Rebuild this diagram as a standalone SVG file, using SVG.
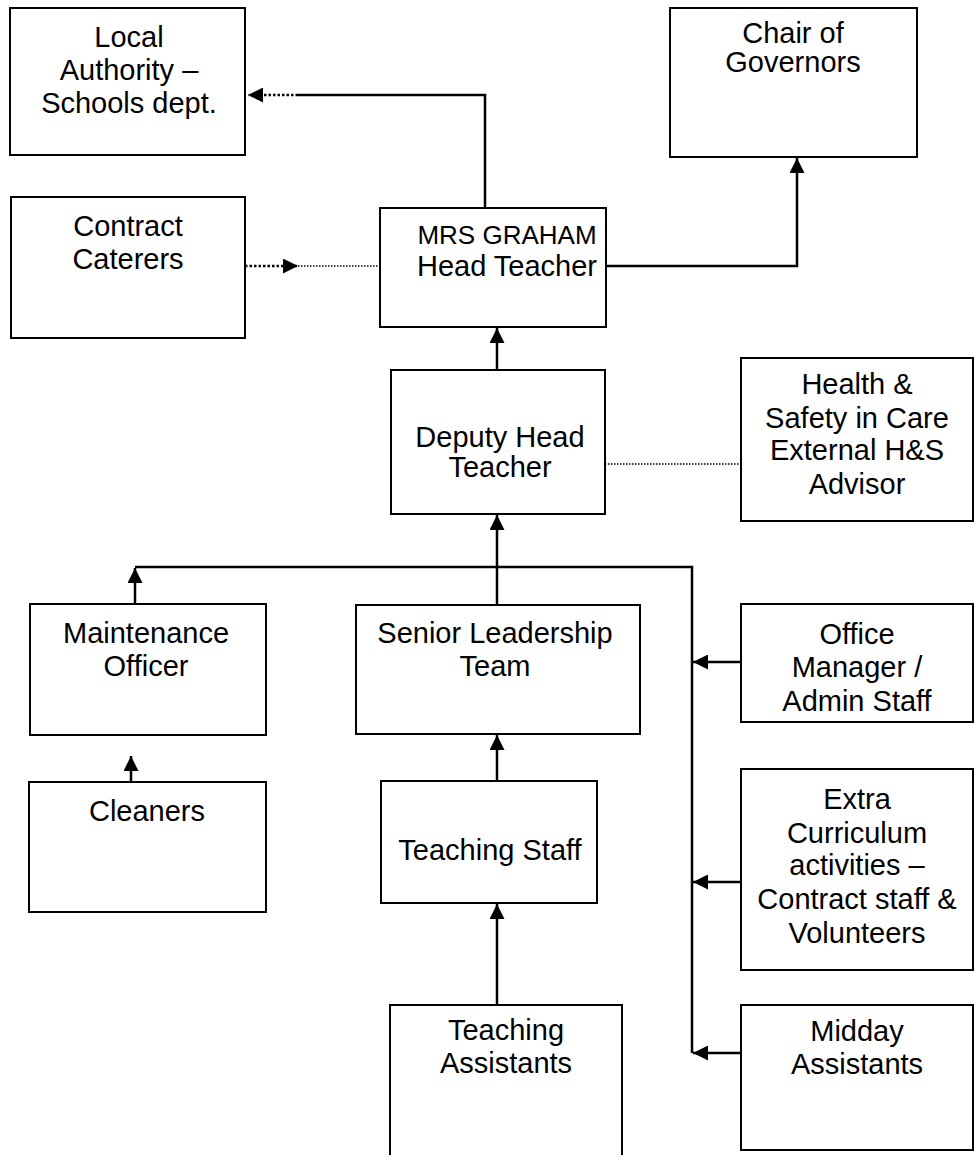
<svg xmlns="http://www.w3.org/2000/svg" width="974" height="1155" viewBox="0 0 974 1155">
<defs>
<marker id="ah" viewBox="0 0 15 15" refX="15" refY="7.5" markerWidth="15" markerHeight="15" markerUnits="userSpaceOnUse" orient="auto">
<path d="M0,0 L15,7.5 L0,15 Z" fill="#000"/>
</marker>
</defs>
<style>
.box{fill:#fff;stroke:#000;stroke-width:2}
.t{font-family:"Liberation Sans",Arial,sans-serif;font-size:29px;fill:#000;text-anchor:middle}
.s{font-size:26px}
.ln{fill:none;stroke:#000;stroke-width:2.5}
.dot{fill:none;stroke:#000;stroke-width:2.5;stroke-dasharray:2.5 2}
.dot2{fill:none;stroke:#000;stroke-width:1.5;stroke-dasharray:1.5 1.5}
</style>
<rect width="974" height="1155" fill="#fff"/>
<g id="connectors">
<path class="ln" d="M485,208 V95 H298"/>
<path class="dot" d="M298,95 H248" marker-end="url(#ah)"/>
<path class="dot" d="M245,266 H298" marker-end="url(#ah)"/>
<path class="dot2" d="M298,266 H380"/>
<path class="ln" d="M606,266 H797 V158" marker-end="url(#ah)"/>
<path class="ln" d="M497,370 V328" marker-end="url(#ah)"/>
<path class="dot2" d="M605,464 H741"/>
<path class="ln" d="M497,605 V515" marker-end="url(#ah)"/>
<path class="ln" d="M135,604 V568" marker-end="url(#ah)"/>
<path class="ln" d="M135,567 H692 V1053"/>
<path class="ln" d="M741,662 H693" marker-end="url(#ah)"/>
<path class="ln" d="M741,882 H693" marker-end="url(#ah)"/>
<path class="ln" d="M741,1053 H693" marker-end="url(#ah)"/>
<path class="ln" d="M131,782 V756" marker-end="url(#ah)"/>
<path class="ln" d="M497,781 V735" marker-end="url(#ah)"/>
<path class="ln" d="M497,1005 V904" marker-end="url(#ah)"/>
</g>
<g id="local-authority"><rect class="box" x="10" y="8" width="235" height="147"/><text class="t" x="129" y="47">Local</text><text class="t" x="129" y="80">Authority –</text><text class="t" x="129" y="113">Schools dept.</text></g>
<g id="chair"><rect class="box" x="670" y="8" width="247" height="149"/><text class="t" x="793" y="43">Chair of</text><text class="t" x="793" y="72">Governors</text></g>
<g id="caterers"><rect class="box" x="11" y="197" width="234" height="141"/><text class="t" x="128" y="236">Contract</text><text class="t" x="128" y="269">Caterers</text></g>
<g id="head"><rect class="box" x="380" y="208" width="226" height="119"/><text class="t s" x="507" y="244">MRS GRAHAM</text><text class="t" x="507" y="276">Head Teacher</text></g>
<g id="deputy"><rect class="box" x="391" y="370" width="214" height="144"/><text class="t" x="500" y="447">Deputy Head</text><text class="t" x="500" y="477">Teacher</text></g>
<g id="health"><rect class="box" x="741" y="358" width="232" height="163"/><text class="t" x="857" y="394">Health &amp;</text><text class="t" x="857" y="428">Safety in Care</text><text class="t" x="857" y="460">External H&amp;S</text><text class="t" x="857" y="494">Advisor</text></g>
<g id="maintenance"><rect class="box" x="30" y="604" width="236" height="131"/><text class="t" x="146" y="643">Maintenance</text><text class="t" x="146" y="676">Officer</text></g>
<g id="slt"><rect class="box" x="356" y="605" width="284" height="129"/><text class="t" x="495" y="643">Senior Leadership</text><text class="t" x="495" y="676">Team</text></g>
<g id="office"><rect class="box" x="741" y="604" width="232" height="118"/><text class="t" x="857" y="644">Office</text><text class="t" x="857" y="677">Manager /</text><text class="t" x="857" y="711">Admin Staff</text></g>
<g id="cleaners"><rect class="box" x="29" y="782" width="237" height="130"/><text class="t" x="147" y="821">Cleaners</text></g>
<g id="teaching-staff"><rect class="box" x="381" y="781" width="216" height="122"/><text class="t" x="490" y="860">Teaching Staff</text></g>
<g id="extra"><rect class="box" x="741" y="769" width="232" height="201"/><text class="t" x="857" y="809">Extra</text><text class="t" x="857" y="843">Curriculum</text><text class="t" x="857" y="875">activities –</text><text class="t" x="857" y="909">Contract staff &amp;</text><text class="t" x="857" y="943">Volunteers</text></g>
<g id="ta"><rect class="box" x="390" y="1005" width="232" height="160"/><text class="t" x="506" y="1040">Teaching</text><text class="t" x="506" y="1073">Assistants</text></g>
<g id="midday"><rect class="box" x="741" y="1005" width="232" height="145"/><text class="t" x="857" y="1041">Midday</text><text class="t" x="857" y="1074">Assistants</text></g>
</svg>
